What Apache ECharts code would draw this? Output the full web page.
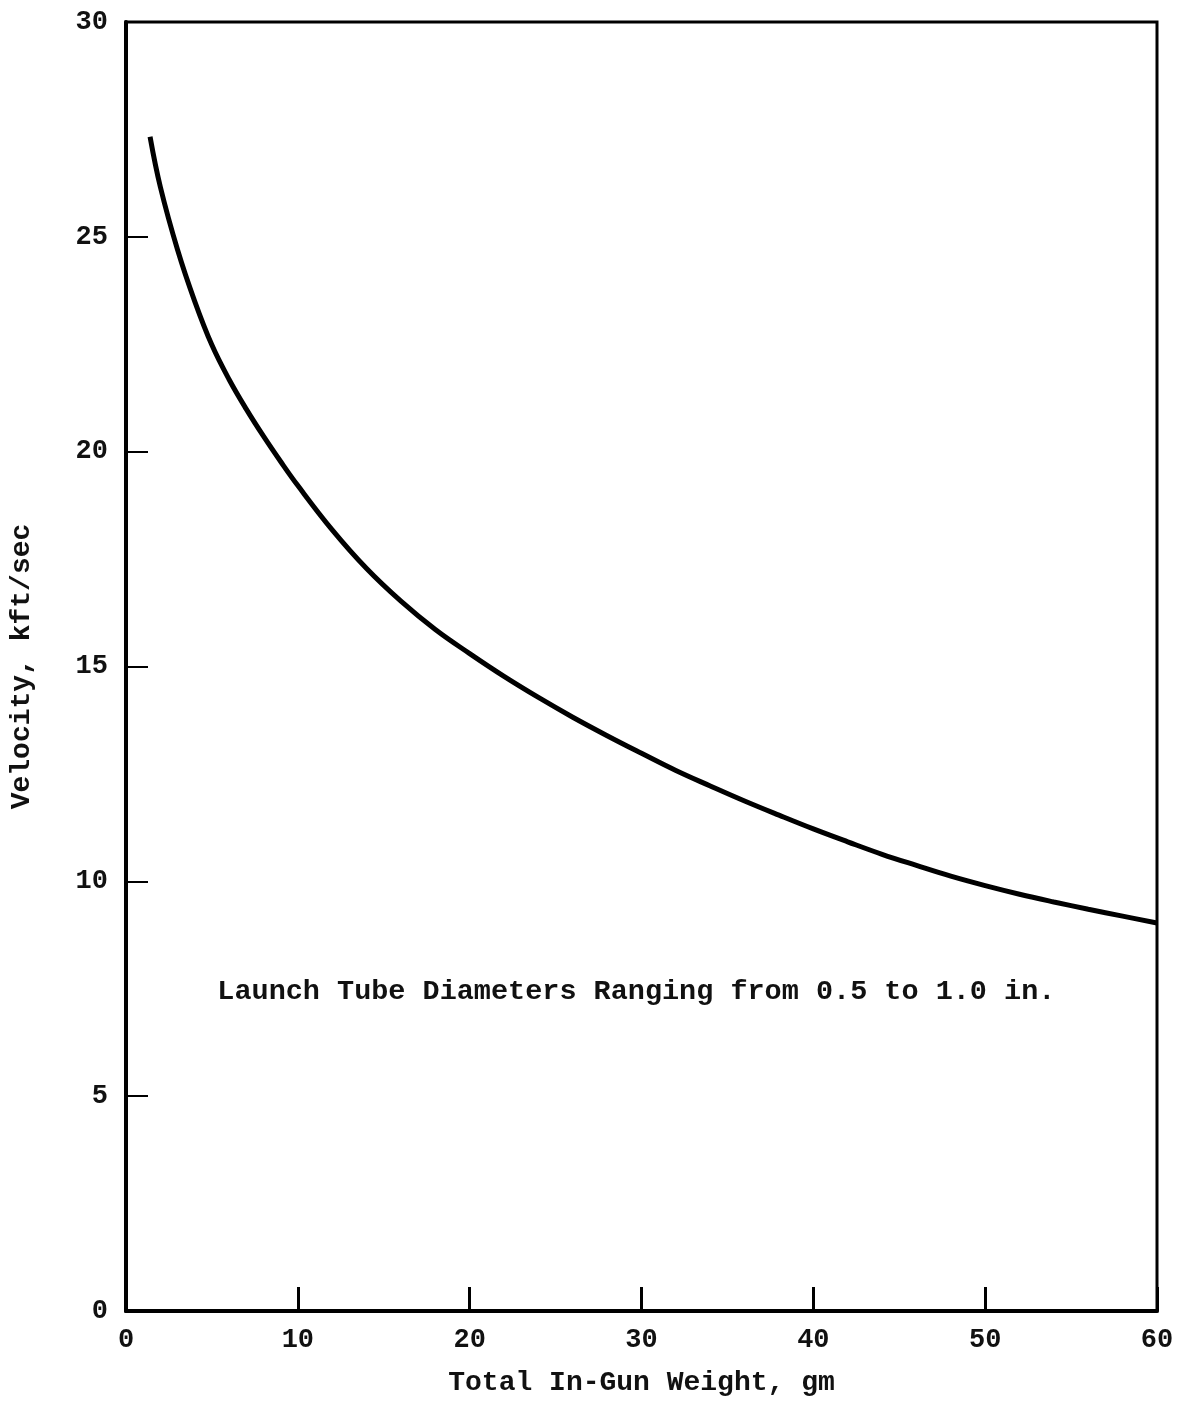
<!DOCTYPE html>
<html>
<head>
<meta charset="utf-8">
<script src="https://cdn.jsdelivr.net/npm/echarts@6/dist/echarts.min.js"></script>
<style>
	html, body { margin: 0; padding: 0; background: #fff; }
	#chart { width: 1191px; height: 1402px; }
</style>
</head>
<body>
<div id="chart"></div>
<script>
// curve
const weight = [1.4, 2, 3, 4, 5, 6, 7, 8, 9, 10, 12, 14, 16, 18, 20, 22, 24, 26, 28, 30, 32, 34, 36, 38, 40, 42, 44, 46, 48, 50, 52, 54, 56, 58, 60];
const velocity = [27.33, 26.16, 24.70, 23.50, 22.48, 21.68, 20.99, 20.36, 19.77, 19.21, 18.18, 17.28, 16.52, 15.86, 15.30, 14.77, 14.28, 13.82, 13.39, 12.98, 12.58, 12.22, 11.87, 11.54, 11.22, 10.92, 10.63, 10.37, 10.12, 9.90, 9.70, 9.52, 9.35, 9.19, 9.03];
const note = 'Launch Tube Diameters Ranging from 0.5 to 1.0 in.';
const notePos = [29.7, 7.43];

const font = '"Liberation Mono", "DejaVu Sans Mono", monospace';

const chart = echarts.init(document.getElementById('chart'));

chart.setOption({
	animation: false,
	backgroundColor: '#fff',
	grid: {
		left: 126,
		right: 34,
		top: 22,
		bottom: 87,
		show: true,
		borderColor: '#000',
		borderWidth: 3
	},
	xAxis: {
		type: 'value',
		min: 0,
		max: 60,
		interval: 10,
		name: 'Total In-Gun Weight, gm',
		nameLocation: 'middle',
		nameGap: 58,
		nameTextStyle: { color: '#111', fontFamily: font, fontWeight: 'bold', fontSize: 28 },
		axisLine: { lineStyle: { color: '#000', width: 4 } },
		axisTick: { inside: true, length: 24, lineStyle: { color: '#000', width: 3 } },
		axisLabel: { color: '#111', fontFamily: font, fontWeight: 'bold', fontSize: 27, margin: 16 },
		splitLine: { show: false }
	},
	yAxis: {
		type: 'value',
		min: 0,
		max: 30,
		interval: 5,
		name: 'Velocity, kft/sec',
		nameLocation: 'middle',
		nameGap: 90,
		nameTextStyle: { color: '#111', fontFamily: font, fontWeight: 'bold', fontSize: 28 },
		axisLine: { lineStyle: { color: '#000', width: 4 } },
		axisTick: { inside: true, length: 22, lineStyle: { color: '#000', width: 2 } },
		axisLabel: { color: '#111', fontFamily: font, fontWeight: 'bold', fontSize: 27, margin: 18 },
		splitLine: { show: false }
	},
	series: [
		{
			type: 'line',
			data: weight.map((w, i) => [w, velocity[i]]),
			smooth: 0.4,
			showSymbol: false,
			lineStyle: { color: '#000', width: 5 }
		}
	]
});

const p = chart.convertToPixel({ gridIndex: 0 }, notePos);
chart.setOption({
	graphic: [
		{
			type: 'text',
			x: p[0],
			y: p[1],
			style: {
				text: note,
				fill: '#111',
				font: 'bold 28.5px ' + font,
				textAlign: 'center',
				textVerticalAlign: 'middle'
			}
		}
	]
});
</script>
</body>
</html>
